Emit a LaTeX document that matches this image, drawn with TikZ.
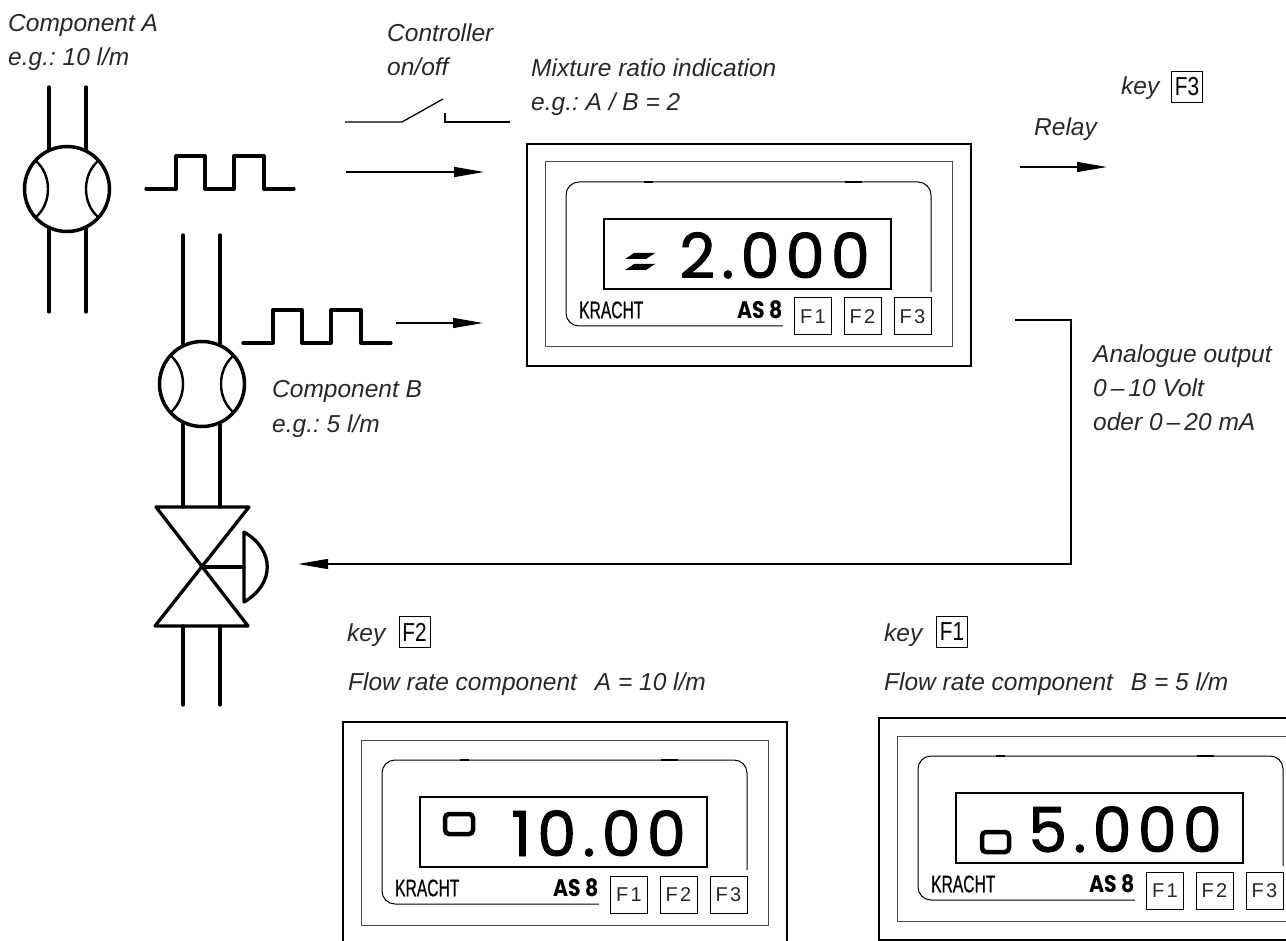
\documentclass[tikz,border=0pt]{standalone}
\usepackage{fontspec}
\usetikzlibrary{arrows.meta}
\setmainfont{Liberation Sans}
\newfontfamily\lcdfont[LetterSpace=10,FakeBold=1.5]{Poppins}
\newfontfamily\brandfont[FakeStretch=0.65,FakeBold=0.5]{Liberation Sans}
\newfontfamily\typefont[FakeStretch=0.85]{Poppins}
\newfontfamily\fkeyfont[LetterSpace=12]{Liberation Sans}
\newfontfamily\capfont[FakeStretch=0.8]{Liberation Sans}
\definecolor{inkGrey}{RGB}{40,40,40}

% one indicator panel: name, x, y, reading, status mark
\newcommand{\dispanel}[5]{
  \begin{scope}[shift={(#2,#3)}]
    \draw[line width=1.7] (0,0) rectangle (444,222);
    \draw[line width=1,black!70] (18,18) rectangle (425,203);
    \draw[line width=1,rounded corners=13] (404,148) -- (404,38) -- (39,38) -- (39,182) -- (256,182);
    \draw[line width=2] (117,38) -- (126,38);
    \draw[line width=2] (318,38) -- (335,38);
    \draw[line width=1.4] (77,75) rectangle (364,145);
    \node[anchor=base east,inner sep=0,font=\lcdfont\fontsize{62}{62}\selectfont] (#1read) at (343,134) {#4};
    \node[anchor=west,inner sep=0,font=\brandfont\fontsize{24}{24}\selectfont] (#1brand) at (52,166) {KRACHT};
    \node[anchor=west,inner sep=0,font=\typefont\bfseries\fontsize{24}{24}\selectfont] (#1type) at (210,166) {AS 8};
    \foreach \k/\px in {1/286,2/335.5,3/385.5}
      \node[fkey] (#1F\k) at (\px,172.5) {F\k};
    #5
  \end{scope}
}
% flow meter in the pipe: name, x, y
\newcommand{\flowmeter}[3]{
  \node[meter] (#1) at (#2,#3) {};
  \begin{scope}[shift={(#2,#3)}]
    \draw[line width=2.4] (-31,-28) .. controls (-15,-14) and (-15,14) .. (-31,28);
    \draw[line width=2.4] (31,-28) .. controls (15,-14) and (15,14) .. (31,28);
  \end{scope}
}
% two pulses, starts at x, y
\newcommand{\pulsetrain}[2]{
  \draw[pipe,shift={(#1,#2)}] (0,0) -- (30,0) -- (30,-33) -- (59,-33) -- (59,0) -- (88,0) -- (88,-33) -- (118,-33) -- (118,0) -- (148,0);
}

\begin{document}
\frenchspacing
\begin{tikzpicture}[x=1pt,y=-1pt,
    lbl/.style={anchor=base west,inner sep=0,align=left,text=inkGrey,font=\itshape\fontsize{24.5}{34.5}\selectfont},
    meter/.style={circle,draw,line width=3.5,minimum size=85,inner sep=0,outer sep=0},
    pipe/.style={line width=3.3,line cap=round,line join=round},
    fkey/.style={draw,line width=1,minimum size=37,inner sep=0,text=inkGrey,font=\fkeyfont\fontsize{20}{20}\selectfont},
    capbox/.style={draw,line width=1,minimum size=31,inner sep=0,font=\capfont\fontsize{26}{26}\selectfont},
    wire/.style={line width=1.3},
    arr/.style={wire,-{Triangle[length=30,width=10]}}]
  \useasboundingbox (0,0) rectangle (1286,941);
  \clip (0,0) rectangle (1286,941);

  % pipes and meters
  \draw[pipe] (49,87) -- (49,150) (86,87) -- (86,150) (49,228) -- (49,312) (86,228) -- (86,312);
  \flowmeter{meterA}{67}{189}
  \draw[pipe] (183,235) -- (183,345) (220,235) -- (220,345) (183,423) -- (183,507) (220,423) -- (220,507);
  \flowmeter{meterB}{202}{384}
  \draw[pipe] (183,626) -- (183,705) (220,626) -- (220,705);

  % valve
  \draw[pipe] (156,507) -- (249,507) -- (155,626) -- (248,626) -- cycle;
  \draw[pipe] (202,567) -- (244,567);
  \draw[pipe] (244,532) .. controls (275,550) and (275,584) .. (244,602) -- cycle;

  \pulsetrain{146}{189}
  \pulsetrain{243}{343}

  % switch
  \draw[wire] (345,122) -- (402,122) -- (443,99);
  \draw[wire] (445,113) -- (445,122) -- (510,122);

  % arrows
  \coordinate (inA) at (346,172);
  \coordinate (tipA) at (484,172);
  \coordinate (inB) at (396,323);
  \coordinate (tipB) at (483,323);
  \coordinate (relayA) at (1020,167);
  \coordinate (relayB) at (1107,167);
  \coordinate (outA) at (1015,320);
  \coordinate (outB) at (1071,320);
  \coordinate (outC) at (1071,564);
  \coordinate (valveIn) at (298,564);
  \draw[arr] (inA) -- (tipA);
  \draw[arr] (inB) -- (tipB);
  \draw[arr] (relayA) -- (relayB);
  \draw[arr] (outA) -- (outB) -- (outC) -- (valveIn);

  % panels
  \dispanel{ratio}{527}{144}{2.000}{
    \fill (107,109) -- (128,109) -- (119,115) -- (98,115) -- cycle;
    \fill (107,120) -- (128,120) -- (119,126) -- (98,126) -- cycle;}
  \dispanel{flowA}{343}{722}{10.00}{
    \draw[line width=4.5,rounded corners=4] (102,92) rectangle (130,112);}
  \dispanel{flowB}{879}{718}{5.000}{
    \draw[line width=4.5,rounded corners=4] (103,114) rectangle (130,134);}

  % labels
  \node[lbl] (compA) at (8,65.7) {Component A\\e.g.: 10 l/m};
  \node[lbl] (ctrl) at (387,76) {Controller\\on/off};
  \node[lbl] (mix) at (531,111) {Mixture ratio indication\\e.g.: A / B = 2};
  \node[lbl] (keyC) at (1121,95) {key};
  \node[capbox] (capC) at (1187,87) {F3};
  \node[lbl] (relay) at (1034,136) {Relay};
  \node[lbl] (compB) at (272,432) {Component B\\e.g.: 5 l/m};
  \node[lbl] (analog) at (1093,431) {Analogue output\\0\,--\,10 Volt\\oder 0\,--\,20 mA};
  \node[lbl] (keyB) at (347,641) {key};
  \node[capbox] (capB) at (414.5,632) {F2};
  \node[lbl] (rateA) at (348,690) {Flow rate component\hspace{18pt}A = 10 l/m};
  \node[lbl] (keyA) at (884,641) {key};
  \node[capbox] (capA) at (952,632) {F1};
  \node[lbl] (rateB) at (884,690) {Flow rate component\hspace{18pt}B = 5 l/m};
\end{tikzpicture}
\end{document}
